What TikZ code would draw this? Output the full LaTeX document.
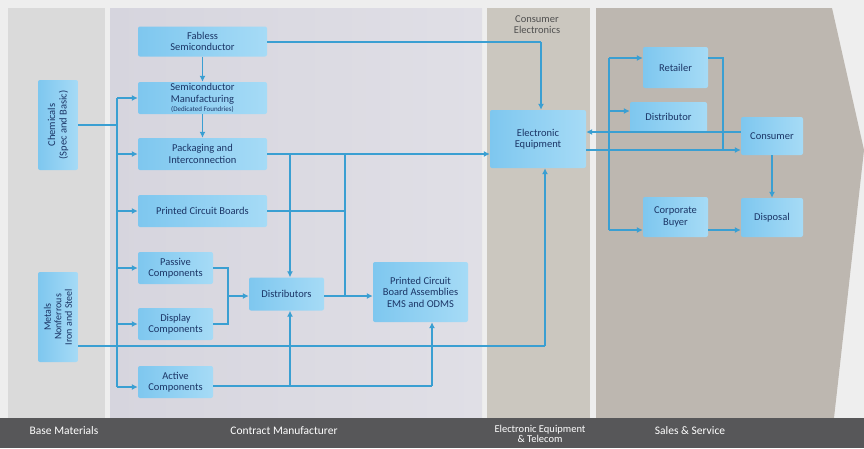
\documentclass[tikz,border=0pt]{standalone}
\usepackage{fontspec}
\setmainfont{Carlito}
\usetikzlibrary{arrows.meta}
\definecolor{ln}{HTML}{3A9FD2}
\definecolor{tx}{HTML}{1B3566}
\definecolor{bxa}{HTML}{7EC7EF}
\definecolor{bxb}{HTML}{A6DBF6}
\definecolor{bgall}{HTML}{EEEEEE}
\definecolor{bgbase}{RGB}{218,218,218}
\definecolor{bgcma}{RGB}{214,213,222}
\definecolor{bgcmb}{RGB}{224,223,230}
\definecolor{bgee}{RGB}{203,199,191}
\definecolor{bgss}{RGB}{189,183,176}
\definecolor{bgbar}{RGB}{87,87,89}
\definecolor{cetx}{RGB}{80,80,80}
\tikzset{
  box/.style={rounded corners=2pt, left color=bxa, right color=bxb, draw=none, text=tx,
     font=\fontsize{10.5}{11.5}\selectfont, align=center, inner sep=1pt},
  rtxt/.style={text=tx, rotate=90, align=center, font=\fontsize{10.5}{11.5}\selectfont},
  conn/.style={draw=ln, line width=1.3pt},
  arr/.style={conn, -{Latex[length=6pt,width=6pt]}},
  foot/.style={text=white, font=\fontsize{11.5}{11}\selectfont, align=center}
}
\begin{document}
\begin{tikzpicture}[x=1pt,y=-1pt]
\useasboundingbox (0,0) rectangle (864,448);
% backgrounds
\fill[bgall] (0,0) rectangle (864,448);
\fill[bgbase] (8,8) rectangle (105,418);
\shade[left color=bgcma, right color=bgcmb] (110,8) rectangle (482,418);
\fill[bgee] (487,8) rectangle (590,418);
\fill[bgss] (596,8) -- (832,8) -- (864,150) -- (834,418) -- (596,418) -- cycle;
\fill[bgbar] (0,418) rectangle (864,448);
\node[foot] (f1) at (64,431) {Base Materials};
\node[foot] (f2) at (284,431) {Contract Manufacturer};
\node[foot, font=\fontsize{10.5}{10}\selectfont] (f3) at (540,434) {Electronic Equipment\\\& Telecom};
\node[foot] (f4) at (690,431) {Sales \& Service};
\node[text=cetx, font=\fontsize{10.5}{11}\selectfont, align=center] (ce) at (537,25) {Consumer\\Electronics};

% nodes
\node[box, minimum width=40pt, minimum height=90pt] (chem) at (58,125) {};
\node[rtxt] (chemt) at (chem.center) {Chemicals\\(Spec and Basic)};
\node[box, minimum width=40pt, minimum height=90pt] (met) at (58,317) {};
\node[rtxt, font=\fontsize{10}{10.5}\selectfont] (mett) at (met.center) {Metals\\Nonferrous\\Iron and Steel};

\node[box, minimum width=129pt, minimum height=30pt] (fab) at (202.5,41.5) {Fabless\\Semiconductor};
\node[box, minimum width=129pt, minimum height=32pt] (sem) at (202.5,98) {Semiconductor\\Manufacturing\\[-2pt]{\fontsize{7}{7}\selectfont (Dedicated Foundries)}};
\node[box, minimum width=129pt, minimum height=32pt] (pack) at (202.5,154) {Packaging and\\Interconnection};
\node[box, minimum width=129pt, minimum height=32pt] (pcb) at (202.5,211) {Printed Circuit Boards};
\node[box, minimum width=75pt, minimum height=32pt] (pas) at (175.5,268) {Passive\\Components};
\node[box, minimum width=75pt, minimum height=32pt] (dis) at (175.5,324) {Display\\Components};
\node[box, minimum width=75pt, minimum height=32pt] (act) at (175.5,382) {Active\\Components};
\node[box, minimum width=75pt, minimum height=33pt] (distr) at (286.5,294) {Distributors};
\node[box, minimum width=95pt, minimum height=60pt] (pcba) at (420.5,292) {Printed Circuit\\Board Assemblies\\EMS and ODMS};
\node[box, minimum width=96pt, minimum height=58pt] (ee) at (538,139) {Electronic\\Equipment};
\node[box, minimum width=65pt, minimum height=41pt] (ret) at (675.5,67.5) {Retailer};
\node[box, minimum width=77pt, minimum height=30pt] (dtr) at (668.5,117) {Distributor};
\node[box, minimum width=62pt, minimum height=38pt] (cons) at (772,136) {Consumer};
\node[box, minimum width=65pt, minimum height=40pt] (corp) at (675.5,217) {Corporate\\Buyer};
\node[box, minimum width=62pt, minimum height=39pt] (disp) at (772,217.5) {Disposal};

% coordinates
\coordinate (busT) at (117,98);
\coordinate (busB) at (117,387);
% left bus
\draw[conn] (chem.east |- 0,125) -- (117,125);
\draw[conn] (busT) -- (busB);
\draw[arr] (busT) -- (sem.west |- busT);
\draw[arr] (117,154) -- (pack.west);
\draw[arr] (117,211) -- (pcb.west);
\draw[arr] (117,268) -- (pas.west);
\draw[arr] (117,324) -- (dis.west);
\draw[arr] (busB) -- (act.west |- busB);

% vertical chain
\draw[arr] (fab.south) -- (sem.north);
\draw[arr] (sem.south) -- (pack.north);

% fabless to EE
\draw[conn] (fab.east |- 0,42) -- (541,42);
\draw[arr] (541,42) -- (ee.north -| 541,0);

% packaging to EE
\draw[arr] (pack.east) -- (ee.west |- pack.east);
\draw[arr] (290,154) -- (distr.north -| 290,0);
\draw[conn] (345,154) -- (345,296);
\draw[conn] (pcb.east) -- (345,211);

% passive/display to distributors
\draw[conn] (pas.east) -- (228,268) -- (228,324) -- (dis.east);
\draw[arr] (228,296) -- (distr.west |- 0,296);
\draw[arr] (distr.east |- 0,296) -- (pcba.west |- 0,296);

% active
\draw[conn] (act.east |- 0,386) -- (432,386);
\draw[arr] (432,386) -- (pcba.south -| 432,0);
\draw[arr] (290,386) -- (distr.south -| 290,0);

% metals to EE
\draw[conn] (met.east |- 0,346) -- (545,346);
\draw[arr] (545,346) -- (ee.south -| 545,0);

% sales
\draw[arr] (ee.east |- 0,150) -- (cons.west |- 0,150);
\draw[arr] (cons.west |- 0,132) -- (ee.east |- 0,132);
\draw[conn] (609,58) -- (609,230);
\draw[arr] (609,58) -- (ret.west |- 0,58);
\draw[arr] (609,111) -- (dtr.west |- 0,111);
\draw[arr] (609,230) -- (corp.west |- 0,230);
\draw[conn] (ret.east |- 0,58) -- (723,58) -- (723,150);
\draw[arr] (cons.south) -- (disp.north);
\draw[arr] (corp.east |- 0,230) -- (disp.west |- 0,230);
\end{tikzpicture}
\end{document}
